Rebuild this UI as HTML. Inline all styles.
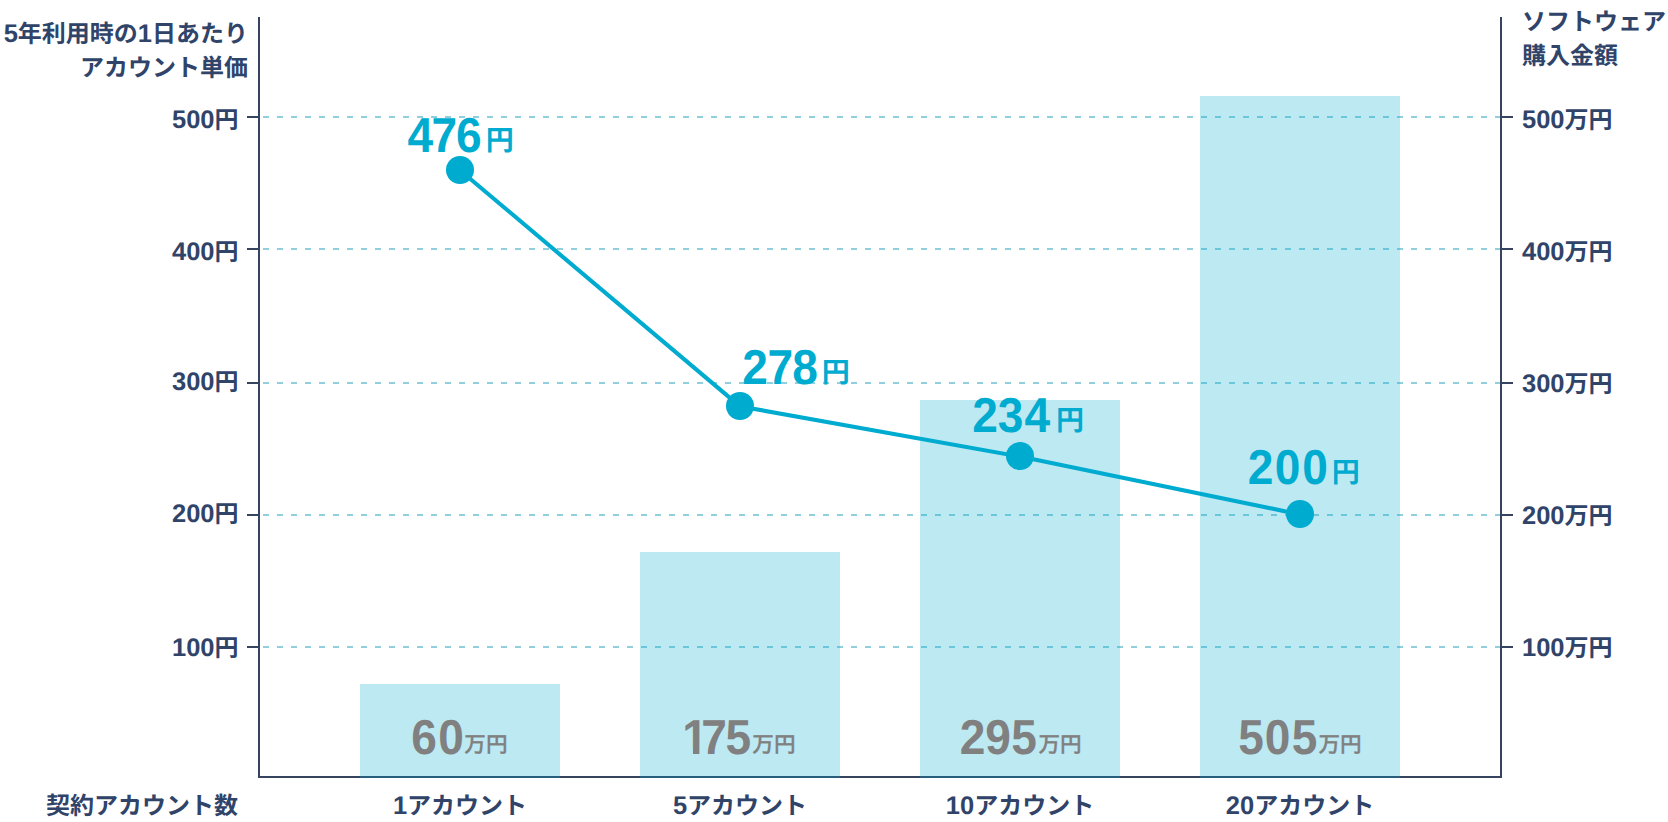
<!DOCTYPE html>
<html lang="ja">
<head>
<meta charset="utf-8">
<title>アカウント単価とソフトウェア購入金額</title>
<style>
  html, body { margin: 0; padding: 0; background: #ffffff; }
  body { width: 1668px; height: 822px; overflow: hidden; }
  svg { display: block; }
  text { font-family: "Liberation Sans", "Noto Sans CJK JP", sans-serif; font-weight: 700; text-rendering: geometricPrecision; }
  .jp  { fill: #30446a; font-size: 24px; }
  .jp .d { font-size: 25.5px; }
  .num { font-weight: 700; }
  .man { font-size: 21.6px; font-weight: 500; stroke: #808080; stroke-width: 0.3px; }
  .yen { font-size: 28px; font-weight: 700; }
  .val { fill: #00abd0; }
  .amt { fill: #808080; }
</style>
</head>
<body>
<svg width="1668" height="822" viewBox="0 0 1668 822">
  <defs>
    <clipPath id="c175" clipPathUnits="userSpaceOnUse">
      <rect x="-5" y="-60" width="220" height="54.90"/>
      <rect x="11.37" y="-12" width="6.86" height="16"/>
      <rect x="26.6" y="-12" width="200" height="20"/>
    </clipPath>
  </defs>
  <rect x="0" y="0" width="1668" height="822" fill="#ffffff"/>

  <!-- dashed grid lines -->
  <g stroke="#8fd0dc" stroke-width="2" stroke-dasharray="6 8" fill="none">
    <line x1="263" y1="117" x2="1501" y2="117"/>
    <line x1="263" y1="249" x2="1501" y2="249"/>
    <line x1="263" y1="383" x2="1501" y2="383"/>
    <line x1="263" y1="515" x2="1501" y2="515"/>
    <line x1="263" y1="647" x2="1501" y2="647"/>
  </g>

  <!-- axes -->
  <g fill="#37445f">
    <rect x="258" y="17" width="2" height="761"/>
    <rect x="1500" y="17" width="2" height="761"/>
    <rect x="258" y="776" width="1244" height="2"/>
    <rect x="247" y="116" width="11" height="2"/>
    <rect x="247" y="248" width="11" height="2"/>
    <rect x="247" y="382" width="11" height="2"/>
    <rect x="247" y="514" width="11" height="2"/>
    <rect x="247" y="646" width="11" height="2"/>
    <rect x="1502" y="116" width="11" height="2"/>
    <rect x="1502" y="248" width="11" height="2"/>
    <rect x="1502" y="382" width="11" height="2"/>
    <rect x="1502" y="514" width="11" height="2"/>
    <rect x="1502" y="646" width="11" height="2"/>
  </g>

  <!-- bars -->
  <g fill="#00abd0" fill-opacity="0.26">
    <rect x="360"  y="684" width="200" height="94"/>
    <rect x="640"  y="552" width="200" height="226"/>
    <rect x="920"  y="400" width="200" height="378"/>
    <rect x="1200" y="96"  width="200" height="682"/>
  </g>

  <!-- line -->
  <polyline points="460,170.2 740,406.4 1020,456.6 1300,514.4" fill="none" stroke="#00abd0" stroke-width="4.1" stroke-linejoin="round"/>
  <g fill="#00abd0">
    <circle cx="460"  cy="170" r="14"/>
    <circle cx="740"  cy="406" r="14"/>
    <circle cx="1020" cy="456" r="14"/>
    <circle cx="1300" cy="514" r="14"/>
  </g>

  <!-- axis titles -->
  <text class="jp" x="248" y="42" text-anchor="end"><tspan class="d">5</tspan>年利用時の<tspan class="d">1</tspan>日あたり</text>
  <text class="jp" x="248" y="76" text-anchor="end">アカウント単価</text>
  <text class="jp" x="1522" y="30">ソフトウェア</text>
  <text class="jp" x="1522" y="64">購入金額</text>
  <text class="jp" x="238" y="814" text-anchor="end">契約アカウント数</text>

  <!-- left axis labels -->
  <text class="jp" x="238.5" y="128" text-anchor="end"><tspan class="d">500</tspan>円</text>
  <text class="jp" x="238.5" y="260" text-anchor="end"><tspan class="d">400</tspan>円</text>
  <text class="jp" x="238.5" y="390" text-anchor="end"><tspan class="d">300</tspan>円</text>
  <text class="jp" x="238.5" y="522" text-anchor="end"><tspan class="d">200</tspan>円</text>
  <text class="jp" x="238.5" y="656" text-anchor="end"><tspan class="d">100</tspan>円</text>

  <!-- right axis labels -->
  <text class="jp" x="1522" y="128"><tspan class="d">500</tspan>万円</text>
  <text class="jp" x="1522" y="260"><tspan class="d">400</tspan>万円</text>
  <text class="jp" x="1522" y="392"><tspan class="d">300</tspan>万円</text>
  <text class="jp" x="1522" y="524"><tspan class="d">200</tspan>万円</text>
  <text class="jp" x="1522" y="656"><tspan class="d">100</tspan>万円</text>

  <!-- x axis labels -->
  <text class="jp" x="460"  y="814" text-anchor="middle"><tspan class="d">1</tspan>アカウント</text>
  <text class="jp" x="740"  y="814" text-anchor="middle"><tspan class="d">5</tspan>アカウント</text>
  <text class="jp" x="1020" y="814" text-anchor="middle"><tspan class="d">10</tspan>アカウント</text>
  <text class="jp" x="1300" y="814" text-anchor="middle"><tspan class="d">20</tspan>アカウント</text>

  <!-- bar amounts -->
  <g><text class="num amt" transform="translate(411.30 754.00) scale(0.94 1)" x="0.00 28.64" y="0" font-size="49.0">60</text><text class="man amt" x="464.3" y="752">万円</text></g>
  <g><text class="num amt" transform="translate(682.27 754.00) scale(0.94 1)" x="0.00 20.31 46.07" y="0" font-size="49.0" clip-path="url(#c175)">175</text><text class="man amt" x="752.3" y="752">万円</text></g>
  <g><text class="num amt" transform="translate(959.66 754.00) scale(0.94 1)" x="0.00 27.27 54.80" y="0" font-size="49.0">295</text><text class="man amt" x="1038.4" y="752">万円</text></g>
  <g><text class="num amt" transform="translate(1238.28 754.00) scale(0.94 1)" x="0.00 28.29 56.91" y="0" font-size="49.0">505</text><text class="man amt" x="1318.4" y="752">万円</text></g>
  <!-- line values -->
  <g><text class="num val" transform="translate(407.44 152.00) scale(0.94 1)" x="0.00 25.51 51.68" y="0" font-size="49.0">476</text><text class="yen val" x="485.66" y="150">円</text></g>
  <g><text class="num val" transform="translate(742.31 384.00) scale(0.94 1)" x="0.00 26.92 53.20" y="0" font-size="49.0">278</text><text class="yen val" x="821.76" y="382">円</text></g>
  <g><text class="num val" transform="translate(972.21 432.00) scale(0.94 1)" x="0.00 27.06 55.75" y="0" font-size="49.0">234</text><text class="yen val" x="1055.9" y="430">円</text></g>
  <g><text class="num val" transform="translate(1247.74 484.00) scale(0.94 1)" x="0.00 28.78 57.90" y="0" font-size="49.0">200</text><text class="yen val" x="1331.66" y="482">円</text></g>
</svg>
</body>
</html>
